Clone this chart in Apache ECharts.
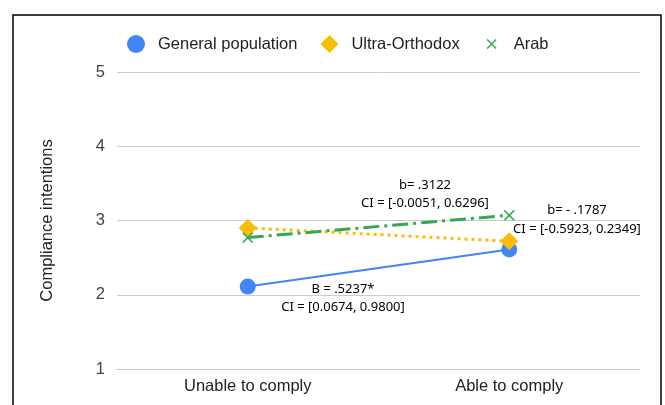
<!DOCTYPE html>
<html><head><meta charset="utf-8">
<script src="https://cdn.jsdelivr.net/npm/echarts@6/dist/echarts.min.js"></script>
<style>html,body{margin:0;padding:0;background:#fff}#c{width:665px;height:405px}</style>
</head><body><div id="c"></div>
<script>
const categories = ['Unable to comply', 'Able to comply'];
const generalPopulation = [2.11, 2.61];
const ultraOrthodox = [2.9, 2.72];
const arab = [2.77, 3.07];
const yTicks = [1, 2, 3, 4, 5];
const annotations = [
  {text: 'B = .5237*', x: 343, y: 289},
  {text: 'CI = [0.0674, 0.9800]', x: 343, y: 307},
  {text: 'b= .3122', x: 425, y: 185},
  {text: 'CI = [-0.0051, 0.6296]', x: 425, y: 203},
  {text: 'b= - .1787', x: 577, y: 210},
  {text: 'CI = [-0.5923, 0.2349]', x: 577, y: 229}
];
const xPath = 'path://M1,0L5,4L9,0L10,1L6,5L10,9L9,10L5,6L1,10L0,9L4,5L0,1Z';
const xPathLegend = 'path://M-4,-4L-4,-4M14,14L14,14M1,0L5,4L9,0L10,1L6,5L10,9L9,10L5,6L1,10L0,9L4,5L0,1Z';
const chart = echarts.init(document.getElementById('c'));
chart.setOption({
  animation: false,
  textStyle: {fontFamily: 'Liberation Sans, Arial, sans-serif'},
  grid: {left: 117, right: 25, top: 72, bottom: 36},
  legend: {
    top: 30, left: 122, itemGap: 23, itemWidth: 18, itemHeight: 18,
    textStyle: {fontSize: 16.5, color: '#222', padding: [0, 0, 0, 8]},
    data: [
      {name: 'General population', icon: 'circle'},
      {name: 'Ultra-Orthodox', icon: 'diamond'},
      {name: 'Arab', icon: xPathLegend}
    ]
  },
  xAxis: {
    type: 'category', data: categories, boundaryGap: true,
    axisLine: {lineStyle: {color: '#ccc'}}, axisTick: {show: false},
    axisLabel: {fontSize: 16.5, color: '#222', margin: 9}
  },
  yAxis: {
    type: 'value', min: yTicks[0], max: yTicks[yTicks.length - 1], interval: 1,
    name: 'Compliance intentions', nameLocation: 'middle', nameGap: 61,
    nameTextStyle: {fontSize: 16.5, color: '#222'},
    axisLine: {show: false}, axisTick: {show: false},
    axisLabel: {fontSize: 16.5, color: '#444', margin: 12},
    splitLine: {lineStyle: {color: '#ccc'}}
  },
  series: [
    {name: 'General population', type: 'line', data: generalPopulation,
     symbol: 'circle', symbolSize: 16, color: '#4285F4',
     lineStyle: {width: 2, color: '#4285F4'}, itemStyle: {color: '#4285F4'}},
    {name: 'Ultra-Orthodox', type: 'line', data: ultraOrthodox,
     symbol: 'diamond', symbolSize: 18, color: '#FBBC04',
     lineStyle: {width: 3, type: [3, 4], color: '#FBBC04'}, itemStyle: {color: '#FBBC04'}},
    {name: 'Arab', type: 'line', data: arab,
     symbol: xPath, symbolSize: 11, color: '#34A853',
     lineStyle: {width: 3, type: [16, 5, 3, 5], color: '#34A853'}, itemStyle: {color: '#34A853'}}
  ],
  graphic: [
    {type: 'rect', shape: {x: 13, y: 15, width: 648, height: 400}, style: {fill: 'none', stroke: '#000', lineWidth: 1.5}, silent: true}
  ].concat(annotations.map(a => ({
    type: 'text', x: a.x, y: a.y,
    style: {text: a.text, fontSize: 13, fill: '#000', align: 'center', verticalAlign: 'middle', fontFamily: 'Noto Sans, sans-serif'}
  })))
});
</script></body></html>
